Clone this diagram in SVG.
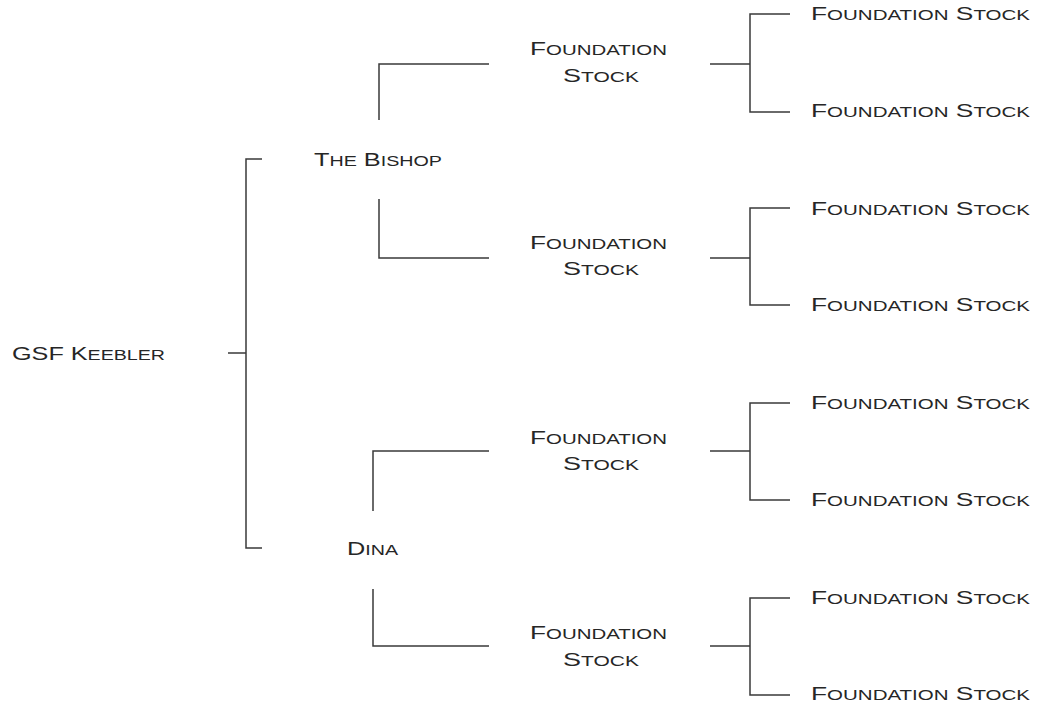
<svg xmlns="http://www.w3.org/2000/svg" width="1038" height="709" viewBox="0 0 1038 709">
<style>
.t{font-family:"Liberation Sans",Arial,sans-serif;fill:#262626;font-size:18px}
.s{font-size:14px}
.c{fill:none;stroke:#3a3a3a;stroke-width:1.5}
</style>
<rect width="1038" height="709" fill="#fff"/>
<g id="connectors" class="c">
<path d="M228,353H246M262,159H246V548H262"/>
<path d="M379,120V64H489M379,199V258H489"/>
<path d="M373,511V451H489M373,589V646H489"/>
<path d="M710,64H750M790,14H750V112H790"/>
<path d="M710,258H750M790,208H750V305H790"/>
<path d="M710,451H750M790,403H750V500H790"/>
<path d="M710,646H750M790,598H750V695H790"/>
</g>
<g id="root"><text class="t" x="12" y="360" textLength="153" lengthAdjust="spacingAndGlyphs">GSF K<tspan class="s">EEBLER</tspan></text></g>
<g id="bishop"><text class="t" x="314" y="166" textLength="128" lengthAdjust="spacingAndGlyphs">T<tspan class="s">HE</tspan> B<tspan class="s">ISHOP</tspan></text></g>
<g id="dina"><text class="t" x="347" y="555" textLength="51" lengthAdjust="spacingAndGlyphs">D<tspan class="s">INA</tspan></text></g>
<g id="mid1"><text class="t" x="530" y="55" textLength="137" lengthAdjust="spacingAndGlyphs">F<tspan class="s">OUNDATION</tspan></text><text class="t" x="563" y="82" textLength="76" lengthAdjust="spacingAndGlyphs">S<tspan class="s">TOCK</tspan></text></g>
<g id="mid2"><text class="t" x="530" y="249" textLength="137" lengthAdjust="spacingAndGlyphs">F<tspan class="s">OUNDATION</tspan></text><text class="t" x="563" y="275" textLength="76" lengthAdjust="spacingAndGlyphs">S<tspan class="s">TOCK</tspan></text></g>
<g id="mid3"><text class="t" x="530" y="444" textLength="137" lengthAdjust="spacingAndGlyphs">F<tspan class="s">OUNDATION</tspan></text><text class="t" x="563" y="470" textLength="76" lengthAdjust="spacingAndGlyphs">S<tspan class="s">TOCK</tspan></text></g>
<g id="mid4"><text class="t" x="530" y="639" textLength="137" lengthAdjust="spacingAndGlyphs">F<tspan class="s">OUNDATION</tspan></text><text class="t" x="563" y="666" textLength="76" lengthAdjust="spacingAndGlyphs">S<tspan class="s">TOCK</tspan></text></g>
<g id="leaf1"><text class="t" x="811" y="20" textLength="219" lengthAdjust="spacingAndGlyphs">F<tspan class="s">OUNDATION</tspan> S<tspan class="s">TOCK</tspan></text></g>
<g id="leaf2"><text class="t" x="811" y="117" textLength="219" lengthAdjust="spacingAndGlyphs">F<tspan class="s">OUNDATION</tspan> S<tspan class="s">TOCK</tspan></text></g>
<g id="leaf3"><text class="t" x="811" y="215" textLength="219" lengthAdjust="spacingAndGlyphs">F<tspan class="s">OUNDATION</tspan> S<tspan class="s">TOCK</tspan></text></g>
<g id="leaf4"><text class="t" x="811" y="311" textLength="219" lengthAdjust="spacingAndGlyphs">F<tspan class="s">OUNDATION</tspan> S<tspan class="s">TOCK</tspan></text></g>
<g id="leaf5"><text class="t" x="811" y="409" textLength="219" lengthAdjust="spacingAndGlyphs">F<tspan class="s">OUNDATION</tspan> S<tspan class="s">TOCK</tspan></text></g>
<g id="leaf6"><text class="t" x="811" y="506" textLength="219" lengthAdjust="spacingAndGlyphs">F<tspan class="s">OUNDATION</tspan> S<tspan class="s">TOCK</tspan></text></g>
<g id="leaf7"><text class="t" x="811" y="604" textLength="219" lengthAdjust="spacingAndGlyphs">F<tspan class="s">OUNDATION</tspan> S<tspan class="s">TOCK</tspan></text></g>
<g id="leaf8"><text class="t" x="811" y="700" textLength="219" lengthAdjust="spacingAndGlyphs">F<tspan class="s">OUNDATION</tspan> S<tspan class="s">TOCK</tspan></text></g>
</svg>
